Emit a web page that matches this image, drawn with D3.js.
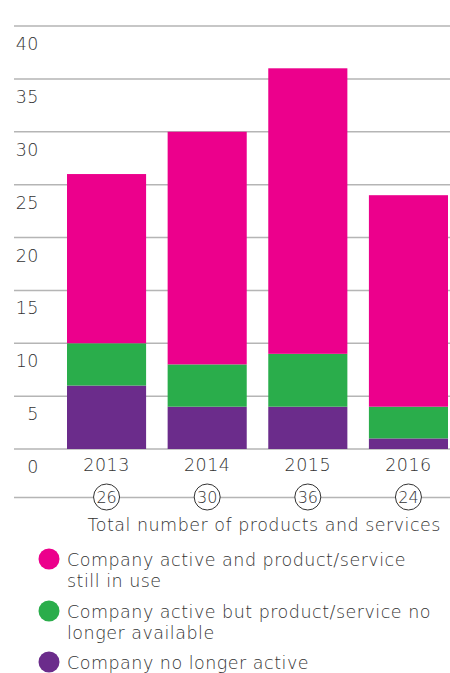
<!DOCTYPE html>
<html>
<head>
<meta charset="utf-8">
<script src="https://cdn.jsdelivr.net/npm/d3@7/dist/d3.min.js"></script>
<style>
  html, body { margin: 0; padding: 0; background: #fff; }
  svg { display: block; font-family: "DejaVu Sans", sans-serif; }
</style>
</head>
<body>
<svg id="chart" width="450" height="673"></svg>
<script>
// Chart data
const years = ["2013", "2014", "2015", "2016"];
const noLongerActive = [6, 4, 4, 1];
const activeNotAvailable = [4, 4, 5, 3];
const activeInUse = [16, 22, 27, 20];
const totals = [26, 30, 36, 24];
const yTicks = [0, 5, 10, 15, 20, 25, 30, 35, 40];
const seriesNames = [
  "Company active and product/service still in use",
  "Company active but product/service no longer available",
  "Company no longer active"
];
const legendLines = [
  ["Company active and product/service", "still in use"],
  ["Company active but product/service no", "longer available"],
  ["Company no longer active"]
];
const colors = ["#ec008c", "#2aad4b", "#6b2c8b"];
const textColor = "#333333";
const fontW = 200;

const svg = d3.select("#chart");

const x = d3.scaleBand().domain(years).range([67, 448]).paddingInner(0.214).paddingOuter(0);
const y = d3.scaleLinear().domain([0, 40]).range([449, 26]);

// Gridlines and y labels
const grid = svg.append("g");
grid.selectAll("line").data(yTicks).join("line")
  .attr("x1", 14).attr("x2", 450)
  .attr("y1", d => y(d)).attr("y2", d => y(d))
  .attr("stroke", "#b5b5b5").attr("stroke-width", 1.5);
grid.selectAll("text").data(yTicks).join("text")
  .attr("x", 39).attr("y", d => y(d) + 24)
  .attr("text-anchor", "end")
  .attr("font-size", 17.5).attr("font-weight", fontW)
  .attr("letter-spacing", 0.5)
  .attr("fill", textColor)
  .text(d => d);

// Stacked bars, bottom to top: no longer active, not available, in use
const rows = years.map((yr, i) => ({
  year: yr,
  inUse: activeInUse[i],
  notAvailable: activeNotAvailable[i],
  inactive: noLongerActive[i]
}));
const stack = d3.stack().keys(["inactive", "notAvailable", "inUse"]);
const layers = stack(rows);
const layerColor = { inactive: colors[2], notAvailable: colors[1], inUse: colors[0] };

svg.append("g").selectAll("g").data(layers).join("g")
  .attr("fill", d => layerColor[d.key])
  .selectAll("rect").data(d => d).join("rect")
  .attr("x", d => x(d.data.year))
  .attr("width", x.bandwidth())
  .attr("y", d => y(d[1]))
  .attr("height", d => y(d[0]) - y(d[1]));

// Year labels
svg.append("g").selectAll("text").data(years).join("text")
  .attr("x", d => x(d) + x.bandwidth() / 2)
  .attr("y", 471)
  .attr("text-anchor", "middle")
  .attr("font-size", 17.5).attr("font-weight", fontW)
  .attr("letter-spacing", 0.5)
  .attr("fill", textColor)
  .text(d => d);

// Totals row
svg.append("line")
  .attr("x1", 14).attr("x2", 450).attr("y1", 497.5).attr("y2", 497.5)
  .attr("stroke", "#b5b5b5").attr("stroke-width", 1.5);

const totalG = svg.append("g").selectAll("g").data(years).join("g")
  .attr("transform", d => `translate(${x(d) + x.bandwidth() / 2},497)`);
totalG.append("circle").attr("r", 13)
  .attr("fill", "#fff").attr("stroke", textColor).attr("stroke-width", 1);
totalG.append("text")
  .attr("y", 5.5).attr("text-anchor", "middle")
  .attr("font-size", 16).attr("font-weight", fontW)
  .attr("fill", textColor)
  .text((d, i) => totals[i]);

svg.append("text")
  .attr("x", 441).attr("y", 531)
  .attr("text-anchor", "end")
  .attr("font-size", 17.5).attr("font-weight", fontW)
  .attr("letter-spacing", 0.5)
  .attr("fill", textColor)
  .text("Total number of products and services");

// Legend
const legendY = [559, 611, 662];
const leg = svg.append("g").selectAll("g").data(seriesNames).join("g")
  .attr("transform", (d, i) => `translate(0,${legendY[i]})`);
leg.append("circle").attr("cx", 49).attr("cy", 0).attr("r", 10.5)
  .attr("fill", (d, i) => colors[i]);
leg.append("text")
  .attr("x", 67).attr("y", 6.5)
  .attr("font-size", 17.5).attr("font-weight", fontW)
  .attr("letter-spacing", 0.5)
  .attr("fill", textColor)
  .selectAll("tspan").data((d, i) => legendLines[i]).join("tspan")
  .attr("x", 67).attr("dy", (d, j) => j === 0 ? 0 : 21)
  .text(d => d);
</script>
</body>
</html>
